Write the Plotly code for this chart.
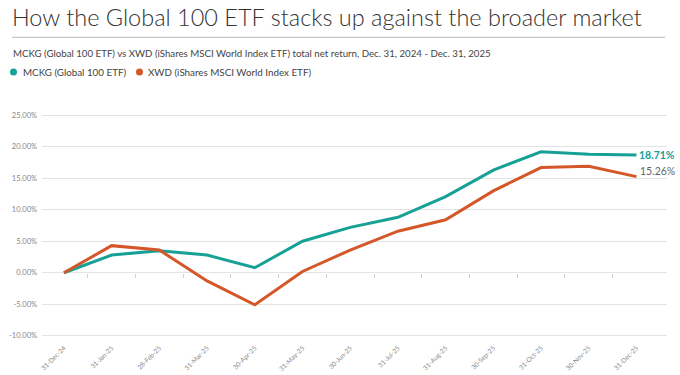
import plotly.graph_objects as go

# ---------------- data ----------------
dates = ["31-Dec-24", "31-Jan-25", "28-Feb-25", "31-Mar-25", "30-Apr-25", "31-May-25",
         "30-Jun-25", "31-Jul-25", "31-Aug-25", "30-Sep-25", "31-Oct-25", "30-Nov-25", "31-Dec-25"]
mckg = [0.0, 2.8, 3.5, 2.8, 0.8, 5.0, 7.2, 8.8, 12.1, 16.3, 19.2, 18.8, 18.71]
xwd = [0.0, 4.3, 3.6, -1.3, -5.1, 0.2, 3.6, 6.6, 8.4, 13.0, 16.7, 16.9, 15.26]
series_names = ["MCKG (Global 100 ETF)", "XWD (iShares MSCI World Index ETF)"]
y_tickvals = [25, 20, 15, 10, 5, 0, -5, -10]
y_ticktext = ["25.00%", "20.00%", "15.00%", "10.00%", "5.00%", "0.00%", "-5.00%", "-10.00%"]

title_text = "How the Global 100 ETF stacks up against the broader market"
subtitle_text = ("MCKG (Global 100 ETF) vs XWD (iShares MSCI World Index ETF) total net return, "
                 "Dec. 31, 2024 - Dec. 31, 2025")

# ---------------- style ----------------
TEAL = "#17A196"
ORANGE = "#D4572A"
FONT = "Lato"
W, H = 680, 375
L, R, T, B = 42, 13, 109, 33
PW, PH = W - L - R, H - T - B
YMIN, YMAX = -11, 26


def px_x(px):
    return (px - L) / PW


def px_y(py):
    return (H - B - py) / PH


fig = go.Figure()
fig.add_trace(go.Scatter(x=dates, y=mckg, mode="lines", name=series_names[0],
                         line=dict(color=TEAL, width=3), showlegend=False))
fig.add_trace(go.Scatter(x=dates, y=xwd, mode="lines", name=series_names[1],
                         line=dict(color=ORANGE, width=3), showlegend=False))
# invisible helper trace so the tick-mark axis at 0% is drawn
fig.add_trace(go.Scatter(x=[0], y=[0], xaxis="x2", mode="markers",
                         marker=dict(opacity=0, size=1), showlegend=False, hoverinfo="skip"))

annotations = [
    dict(text=title_text, x=px_x(10), y=px_y(17), xref="paper", yref="paper",
         xanchor="left", yanchor="middle", showarrow=False,
         font=dict(family=FONT, size=23.5, color="#333333", weight=300)),
    dict(text=subtitle_text, x=px_x(11), y=px_y(53), xref="paper", yref="paper",
         xanchor="left", yanchor="middle", showarrow=False,
         font=dict(family=FONT, size=9.7, color="#444444")),
    dict(text=series_names[0], x=px_x(21), y=px_y(72), xref="paper", yref="paper",
         xanchor="left", yanchor="middle", showarrow=False,
         font=dict(family=FONT, size=9.8, color="#444444")),
    dict(text=series_names[1], x=px_x(146), y=px_y(72), xref="paper", yref="paper",
         xanchor="left", yanchor="middle", showarrow=False,
         font=dict(family=FONT, size=9.8, color="#444444")),
    dict(text=f"<b>{mckg[-1]:.2f}%</b>", x=dates[-1], y=mckg[-1], xref="x", yref="y",
         xanchor="left", yanchor="middle", xshift=1, showarrow=False,
         font=dict(family=FONT, size=10.5, color=TEAL)),
    dict(text=f"{xwd[-1]:.2f}%", x=dates[-1], y=xwd[-1], xref="x", yref="y",
         xanchor="left", yanchor="middle", xshift=2, yshift=6, showarrow=False,
         font=dict(family=FONT, size=10.5, color="#666666")),
]

shapes = [
    dict(type="line", xref="paper", yref="paper", x0=px_x(12), x1=px_x(665),
         y0=px_y(37.3), y1=px_y(37.3), line=dict(color="#BBBBBB", width=1)),
    dict(type="circle", xref="paper", yref="paper", xsizemode="pixel", ysizemode="pixel",
         xanchor=px_x(13.5), yanchor=px_y(72), x0=-3.5, x1=3.5, y0=-3.5, y1=3.5,
         fillcolor=TEAL, line=dict(width=0)),
    dict(type="circle", xref="paper", yref="paper", xsizemode="pixel", ysizemode="pixel",
         xanchor=px_x(139.5), yanchor=px_y(72), x0=-3.5, x1=3.5, y0=-3.5, y1=3.5,
         fillcolor=ORANGE, line=dict(width=0)),
]

xr = [-0.46, 12.64]
fig.update_layout(
    width=W, height=H,
    margin=dict(l=L, r=R, t=T, b=B, autoexpand=False),
    paper_bgcolor="white", plot_bgcolor="white",
    font=dict(family=FONT),
    showlegend=False,
    annotations=annotations,
    shapes=shapes,
    xaxis=dict(type="category", range=xr, showgrid=False, zeroline=False, showline=False,
               tickangle=-45, tickfont=dict(size=6.5, color="#888888", family=FONT),
               ticks="", automargin=False),
    xaxis2=dict(type="linear", overlaying="x", anchor="free",
                position=(0 - YMIN) / (YMAX - YMIN), range=xr,
                tickvals=[i + 0.5 for i in range(len(dates) - 1)],
                ticks="outside", ticklen=4, tickcolor="#D0D0D0", tickwidth=1,
                showticklabels=False, showgrid=False, zeroline=False, showline=False),
    yaxis=dict(range=[YMIN, YMAX], tickvals=y_tickvals, ticktext=y_ticktext,
               showgrid=True, gridcolor="#E3E3E3", gridwidth=1, zeroline=False,
               showline=False, ticks="", ticklabelstandoff=4,
               tickfont=dict(size=7.5, color="#888888", family=FONT), automargin=False),
)

fig.write_html("out.html", config={"displayModeBar": False},
               post_script="document.body.style.margin='0';")
